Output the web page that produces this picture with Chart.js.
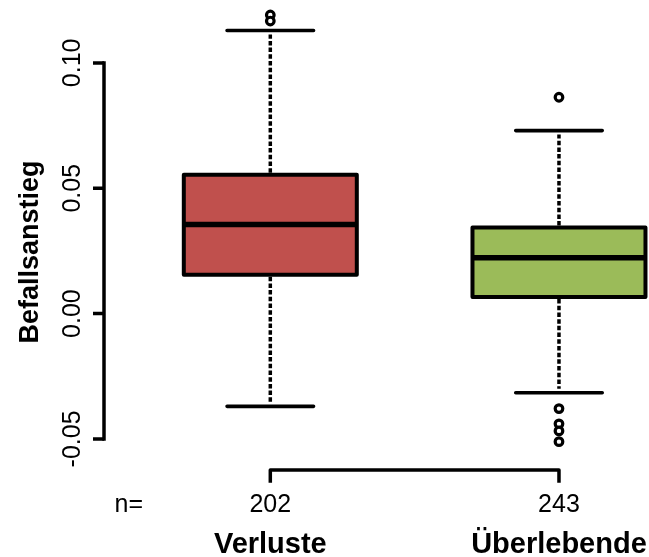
<!DOCTYPE html>
<html>
<head>
<meta charset="utf-8">
<script src="https://cdn.jsdelivr.net/npm/chart.js@4/dist/chart.umd.min.js"></script>
<style>
  html, body { margin: 0; padding: 0; background: #ffffff; }
  canvas { display: block; }
</style>
</head>
<body>
<canvas id="chart" width="649" height="557"></canvas>
<script>
// Group names and sample sizes
const groups = ['Verluste', 'Überlebende'];
const groupCounts = [202, 243];

// Five-number summaries per group
const lowerWhiskers = [-0.0370, -0.0316];
const lowerQuartiles = [0.0155, 0.0066];
const medians = [0.0355, 0.0223];
const upperQuartiles = [0.0554, 0.0343];
const upperWhiskers = [0.1129, 0.0730];

// Points beyond the whiskers
const outliersVerluste = [0.1191, 0.1167];
const outliersUeberlebende = [0.0863, -0.0379, -0.0440, -0.0468, -0.0511];

// Value axis
const yTicks = [-0.05, 0.00, 0.05, 0.10];
const yTickLabels = ['-0.05', '0.00', '0.05', '0.10'];
const yTitle = 'Befallsanstieg';
const countPrefix = 'n=';

const boxColors = ['#C0504D', '#9BBB59'];

// Box outlines, medians, whiskers and the R-style axes
const boxplotDecor = {
  id: 'boxplotDecor',
  afterDatasetsDraw(chart) {
    const ctx = chart.ctx;
    const xs = chart.scales.x;
    const ys = chart.scales.y;
    const area = chart.chartArea;
    const bars = chart.getDatasetMeta(0).data;
    ctx.save();
    ctx.strokeStyle = '#000';

    bars.forEach((bar, i) => {
      const cx = xs.getPixelForValue(i + 1);
      const half = bar.width / 2;
      const top = ys.getPixelForValue(upperQuartiles[i]);
      const bottom = ys.getPixelForValue(lowerQuartiles[i]);

      // whiskers (dashed)
      ctx.lineWidth = 3.5;
      ctx.lineCap = 'butt';
      ctx.setLineDash([4.5, 2.2]);
      ctx.beginPath();
      ctx.moveTo(cx, top - 2);
      ctx.lineTo(cx, ys.getPixelForValue(upperWhiskers[i]) + 4);
      ctx.moveTo(cx, bottom + 2);
      ctx.lineTo(cx, ys.getPixelForValue(lowerWhiskers[i]) - 4);
      ctx.stroke();
      ctx.setLineDash([]);

      // staples
      ctx.lineWidth = 3.6;
      ctx.lineCap = 'round';
      ctx.beginPath();
      [upperWhiskers[i], lowerWhiskers[i]].forEach(v => {
        const py = ys.getPixelForValue(v);
        ctx.moveTo(cx - half / 2, py);
        ctx.lineTo(cx + half / 2, py);
      });
      ctx.stroke();

      // box outline
      ctx.lineWidth = 4;
      ctx.lineJoin = 'round';
      ctx.strokeRect(cx - half, top, bar.width, bottom - top);

      // median
      ctx.lineWidth = 5.5;
      ctx.lineCap = 'butt';
      const my = ys.getPixelForValue(medians[i]);
      ctx.beginPath();
      ctx.moveTo(cx - half, my);
      ctx.lineTo(cx + half, my);
      ctx.stroke();
    });

    // value axis
    const ax = area.left;
    ctx.lineWidth = 3.5;
    ctx.lineCap = 'square';
    ctx.beginPath();
    ctx.moveTo(ax, ys.getPixelForValue(yTicks[0]));
    ctx.lineTo(ax, ys.getPixelForValue(yTicks[yTicks.length - 1]));
    ctx.stroke();
    ctx.lineCap = 'butt';
    ctx.beginPath();
    yTicks.forEach(v => {
      const py = ys.getPixelForValue(v);
      ctx.moveTo(ax, py);
      ctx.lineTo(ax - 11, py);
    });
    ctx.stroke();

    ctx.fillStyle = '#000';
    ctx.font = '25px "Liberation Sans", Arial, sans-serif';
    ctx.textAlign = 'center';
    ctx.textBaseline = 'alphabetic';
    yTicks.forEach((v, i) => {
      ctx.save();
      ctx.translate(80, ys.getPixelForValue(v));
      ctx.rotate(-Math.PI / 2);
      ctx.fillText(yTickLabels[i], 0, 0);
      ctx.restore();
    });

    ctx.save();
    ctx.font = 'bold 27px "Liberation Sans", Arial, sans-serif';
    ctx.translate(38, (area.top + area.bottom) / 2 + 12);
    ctx.rotate(-Math.PI / 2);
    ctx.fillText(yTitle, 0, 0);
    ctx.restore();

    // group axis
    const by = area.bottom;
    const x1 = xs.getPixelForValue(1);
    const x2 = xs.getPixelForValue(groups.length);
    ctx.lineWidth = 3.5;
    ctx.lineCap = 'square';
    ctx.beginPath();
    ctx.moveTo(x1, by + 11);
    ctx.lineTo(x1, by);
    ctx.lineTo(x2, by);
    ctx.lineTo(x2, by + 11);
    ctx.stroke();

    ctx.font = '25px "Liberation Sans", Arial, sans-serif';
    ctx.fillText(countPrefix, xs.getPixelForValue(0.51), 512);
    groups.forEach((g, i) => {
      const px = xs.getPixelForValue(i + 1);
      ctx.font = '25px "Liberation Sans", Arial, sans-serif';
      ctx.fillText(String(groupCounts[i]), px, 512);
      ctx.font = 'bold 29px "Liberation Sans", Arial, sans-serif';
      ctx.fillText(g, px, 553);
    });

    ctx.restore();
  }
};

const outlierPoints = [];
outliersVerluste.forEach(v => outlierPoints.push({ x: 1, y: v }));
outliersUeberlebende.forEach(v => outlierPoints.push({ x: 2, y: v }));

new Chart(document.getElementById('chart'), {
  type: 'bar',
  data: {
    datasets: [
      {
        type: 'bar',
        data: groups.map((g, i) => ({ x: i + 1, y: [lowerQuartiles[i], upperQuartiles[i]] })),
        backgroundColor: boxColors,
        borderWidth: 0,
        barThickness: 173,
        clip: false
      },
      {
        type: 'scatter',
        data: outlierPoints,
        pointRadius: 3.8,
        pointBorderWidth: 3.2,
        borderColor: '#000',
        backgroundColor: '#fff',
        pointBackgroundColor: '#fff',
        pointBorderColor: '#000',
        clip: false
      }
    ]
  },
  options: {
    responsive: false,
    animation: false,
    devicePixelRatio: 1,
    layout: { padding: { left: 104, right: 0, top: 10, bottom: 87 } },
    plugins: { legend: { display: false }, tooltip: { enabled: false } },
    scales: {
      x: { type: 'linear', min: 0.4239, max: 2.2869, display: false, offset: false },
      y: {
        type: 'linear', min: -0.0624, max: 0.1211, display: false,
        afterBuildTicks: (scale) => { scale.ticks = yTicks.map(v => ({ value: v })); }
      }
    }
  },
  plugins: [boxplotDecor]
});
</script>
</body>
</html>
